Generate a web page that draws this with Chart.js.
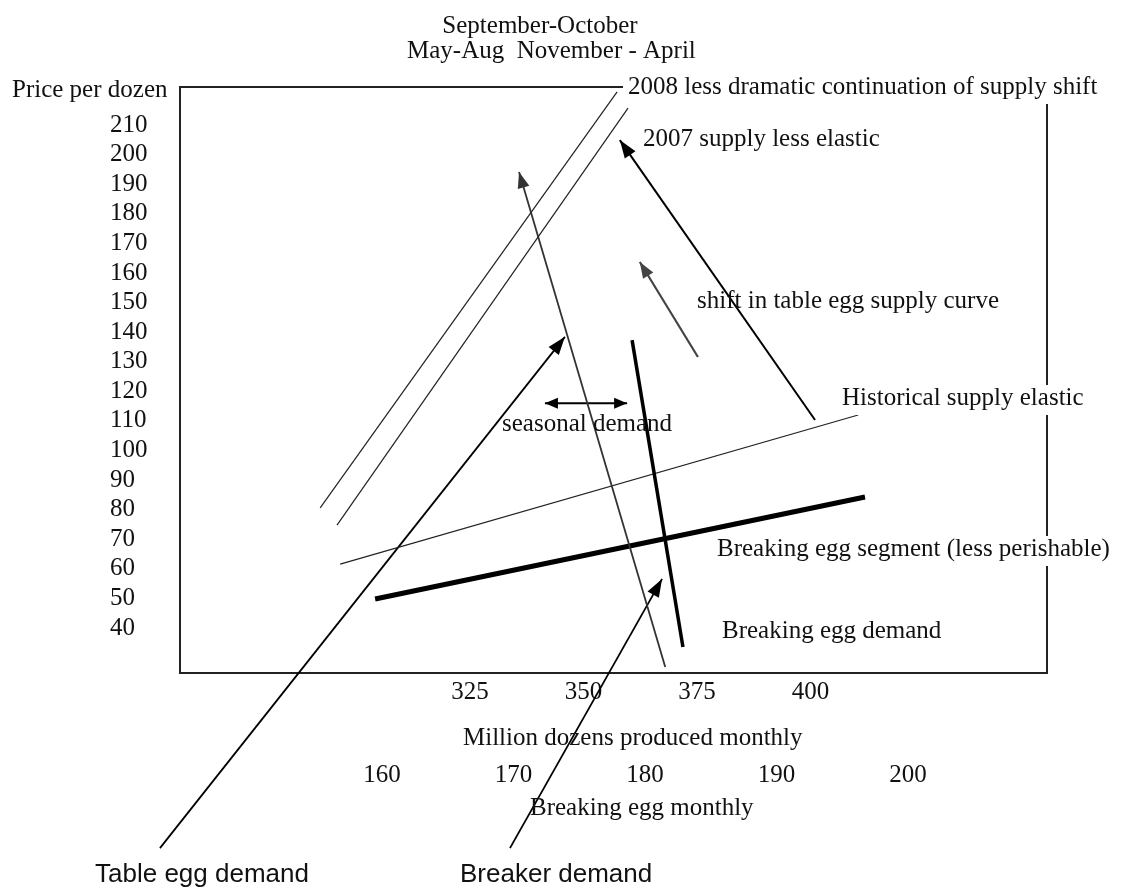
<!DOCTYPE html>
<html><head><meta charset="utf-8">
<script src="https://cdn.jsdelivr.net/npm/chart.js@4.4.1/dist/chart.umd.min.js"></script>
<style>html,body{margin:0;padding:0;background:#fff}canvas{display:block}</style>
</head><body>
<canvas id="c" width="1123" height="888"></canvas>
<script>
// ---- tick labels ----
const yTicks = [40,50,60,70,80,90,100,110,120,130,140,150,160,170,180,190,200,210];
const xTicks = [325,350,375,400];          // million dozens produced monthly
const x2Ticks = [160,170,180,190,200];     // breaking egg monthly

// ---- curves (x = million dozens, y = price per dozen) ----
const supply2008       = [{x:292.0,y:80.6},{x:357.4,y:221.2}];
const supply2007       = [{x:295.7,y:74.8},{x:359.8,y:215.7}];
const tableDemand      = [{x:368.0,y:26.8},{x:335.8,y:194.1}];
const breakingDemand   = [{x:360.7,y:137.3},{x:371.9,y:33.6}];
const historicalSupply = [{x:296.4,y:61.6},{x:410.5,y:112.0}];
const breakingSegment  = [{x:304.1,y:49.8},{x:412.0,y:84.3}];
const supplyShiftArrow = [{x:375.2,y:131.6},{x:362.4,y:163.7}];
const elasticityArrow  = [{x:401.0,y:110.3},{x:358.0,y:204.9}];
const seasonalArrow    = [{x:341.5,y:116.0},{x:359.6,y:116.0}];
const tableCallout     = [{x:256.7,y:-34.4},{x:345.9,y:138.4}];
const breakerCallout   = [{x:333.8,y:-34.4},{x:367.3,y:56.6}];

const SERIF = '"Liberation Serif","Times New Roman",serif';
const SANS = '"Liberation Sans",Arial,sans-serif';
const INK = '#111';

function ds(label, data, width, color, extra){
  return Object.assign({label, data, showLine:true, borderColor:color, backgroundColor:color,
    borderWidth:width, pointRadius:0, pointHoverRadius:0, fill:false, tension:0,
    xAxisID:'x', yAxisID:'y'}, extra||{});
}

const datasets = [
  ds('2008 supply', supply2008, 1.2, '#222'),
  ds('2007 supply', supply2007, 1.2, '#222'),
  ds('Table egg demand', tableDemand, 1.8, '#333', {arrow:'end', head:[16,12]}),
  ds('Breaking egg demand', breakingDemand, 3.5, '#000'),
  ds('Historical supply', historicalSupply, 1.2, '#222'),
  ds('Breaking egg segment', breakingSegment, 5, '#000'),
  ds('Supply shift', supplyShiftArrow, 2.2, '#444', {arrow:'end', head:[16,12]}),
  ds('Elasticity arrow', elasticityArrow, 2, '#000', {arrow:'end', head:[18,13], clip:false}),
  ds('Seasonal demand', seasonalArrow, 2, '#000', {arrow:'both', head:[13,11]}),
  ds('Table egg demand callout', tableCallout, 1.8, '#000', {arrow:'end', head:[18,13], clip:false}),
  ds('Breaker demand callout', breakerCallout, 1.8, '#000', {arrow:'end', head:[18,13], clip:false}),
];

const notes = [
  {t:'September-October', x:540, y:33, align:'center'},
  {t:'May-Aug  November - April', x:407, y:58},
  {t:'Price per dozen', x:12, y:97},
  {t:'2008 less dramatic continuation of supply shift', x:628, y:94, bg:true},
  {t:'2007 supply less elastic', x:643, y:146},
  {t:'shift in table egg supply curve', x:697, y:308},
  {t:'seasonal demand', x:502, y:431},
  {t:'Historical supply elastic', x:842, y:405, bg:true},
  {t:'Breaking egg segment (less perishable)', x:717, y:556, bg:true},
  {t:'Breaking egg demand', x:722, y:638},
  {t:'Million dozens produced monthly', x:463, y:745},
  {t:'Breaking egg monthly', x:530, y:815},
  {t:'Table egg demand', x:95, y:882, sans:true},
  {t:'Breaker demand', x:460, y:882, sans:true},
];

function head(ctx, x0, y0, x1, y1, len, w, color){
  const a = Math.atan2(y1-y0, x1-x0);
  ctx.save();
  ctx.translate(x1, y1); ctx.rotate(a);
  ctx.beginPath(); ctx.moveTo(0,0); ctx.lineTo(-len, w/2); ctx.lineTo(-len, -w/2); ctx.closePath();
  ctx.fillStyle = color; ctx.fill();
  ctx.restore();
}

const decor = {
  id:'decor',
  beforeDatasetsDraw(chart){
    const {ctx, chartArea:a} = chart;
    ctx.save();
    ctx.strokeStyle = '#222'; ctx.lineWidth = 2;
    ctx.strokeRect(a.left, a.top, a.right - a.left, a.bottom - a.top);
    ctx.restore();
  },
  afterDatasetsDraw(chart){
    const ctx = chart.ctx;
    chart.data.datasets.forEach((d, i) => {
      if (!d.arrow) return;
      const pts = chart.getDatasetMeta(i).data;
      const n = pts.length;
      const [len, w] = d.head;
      head(ctx, pts[n-2].x, pts[n-2].y, pts[n-1].x, pts[n-1].y, len, w, d.borderColor);
      if (d.arrow === 'both') head(ctx, pts[1].x, pts[1].y, pts[0].x, pts[0].y, len, w, d.borderColor);
    });
    ctx.save();
    notes.forEach(n => {
      ctx.font = n.sans ? '26px ' + SANS : '25px ' + SERIF;
      ctx.textAlign = n.align || 'left';
      ctx.textBaseline = 'alphabetic';
      const w = ctx.measureText(n.t).width;
      if (n.bg) {
        const left = n.align === 'center' ? n.x - w/2 : n.x;
        ctx.fillStyle = '#fff';
        ctx.fillRect(left - 5, n.y - 20, w + 10, 30);
      }
      ctx.fillStyle = INK;
      ctx.fillText(n.t, n.x, n.y);
    });
    ctx.restore();
  }
};

const tickFont = {family: SERIF, size: 25};

new Chart(document.getElementById('c'), {
  type: 'scatter',
  data: {datasets},
  options: {
    responsive: false,
    animation: false,
    events: [],
    layout: {padding: {top: 87, left: 110, right: 76, bottom: 68}},
    plugins: {legend: {display: false}, tooltip: {enabled: false}, title: {display: false}},
    scales: {
      x: {
        type: 'linear', position: 'bottom', weight: 0,
        min: 261.12, max: 452.09,
        afterBuildTicks(s){ s.ticks = xTicks.map(v => ({value: v})); },
        afterFit(s){ s.height = 77; },
        ticks: {font: tickFont, color: INK, padding: 4, autoSkip: false, maxRotation: 0,
                callback: v => String(v)},
        grid: {display: false, drawTicks: false},
        border: {display: false}
      },
      x2: {
        type: 'linear', position: 'bottom', weight: 1,
        min: 144.64, max: 210.57,
        afterBuildTicks(s){ s.ticks = x2Ticks.map(v => ({value: v})); },
        afterFit(s){ s.height = 70; },
        ticks: {font: tickFont, color: INK, padding: 10, autoSkip: false, maxRotation: 0,
                callback: v => String(v)},
        grid: {display: false, drawTicks: false},
        border: {display: false}
      },
      y: {
        type: 'linear', position: 'left',
        min: 24.8, max: 222.84,
        afterBuildTicks(s){ s.ticks = yTicks.map(v => ({value: v})); },
        afterFit(s){ s.width = 70; },
        ticks: {font: tickFont, color: INK, crossAlign: 'far', padding: 0, autoSkip: false,
                callback: v => String(v)},
        grid: {display: false, drawTicks: false},
        border: {display: false}
      }
    }
  },
  plugins: [decor]
});
</script>
</body></html>
